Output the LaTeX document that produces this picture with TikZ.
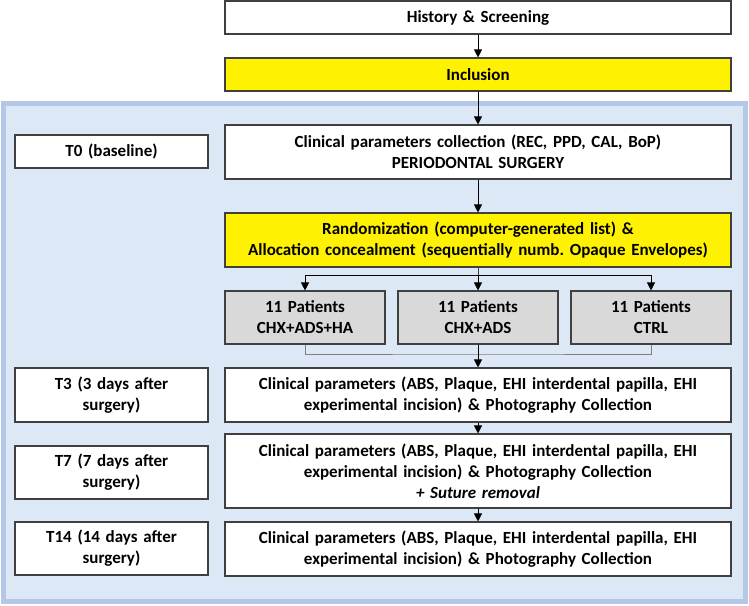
\documentclass[tikz,border=0pt]{standalone}
\usepackage{fontspec}
\setmainfont{Carlito}
\usetikzlibrary{arrows.meta,positioning}
\definecolor{boxline}{HTML}{404040}
\definecolor{bandfill}{HTML}{DCE8F6}
\definecolor{bandline}{HTML}{B4C7E7}
\definecolor{patfill}{HTML}{D9D9D9}
\frenchspacing
\begin{document}
\begin{tikzpicture}[x=1pt, y=-1pt,
  every node/.style={font=\fontsize{17}{21}\selectfont\bfseries, align=center},
  box/.style={draw=boxline, line width=1.1pt, fill=white, inner xsep=4pt, inner ysep=0pt},
  mainbox/.style={box, text width=498pt, minimum height=#1},
  timebox/.style={box, text width=185pt, minimum height=#1},
  patbox/.style={box, fill=patfill, text width=152pt, minimum height=53pt},
  arr/.style={-{Triangle[length=8pt,width=8pt]}, draw=black, line width=0.8pt},
  linkline/.style={draw=boxline, line width=0.8pt}]
\useasboundingbox (0,0) rectangle (749,605);

\draw[bandline, fill=bandfill, line width=5pt] (3.5,103.5) rectangle (745.5,601.5);

\node[mainbox=33pt] (hist) at (478,17.5) {History \& Screening};
\node[mainbox=33pt, fill=yellow] (incl) at (478,74.5) {Inclusion};

\node[timebox=33pt] (t0) at (111.5,151.5) {T0 (baseline)};
\node[mainbox=54pt] (clin) at (478,152) {Clinical parameters collection (REC, PPD, CAL, BoP)\\PERIODONTAL SURGERY};

\node[mainbox=54pt, fill=yellow] (rand) at (478,240) {Randomization (computer-generated list) \&\\Allocation concealment (sequentially numb. Opaque Envelopes)};

\node[patbox] (pat1) at (305,317.5) {11 Patients\\CHX+ADS+HA};
\node[patbox] (pat2) at (478,317.5) {11 Patients\\CHX+ADS};
\node[patbox] (pat3) at (651,317.5) {11 Patients\\CTRL};

\node[timebox=54pt] (t3) at (111.5,395) {T3 (3 days after\\surgery)};
\node[mainbox=54pt] (visit3) at (478,395) {Clinical parameters (ABS, Plaque, EHI interdental papilla, EHI\\experimental incision) \& Photography Collection};

\node[timebox=53pt] (t7) at (111.5,472.5) {T7 (7 days after\\surgery)};
\node[mainbox=74pt] (visit7) at (478,471) {Clinical parameters (ABS, Plaque, EHI interdental papilla, EHI\\experimental incision) \& Photography Collection\\\textit{+ Suture removal}};

\node[timebox=53pt] (t14) at (111.5,548.5) {T14 (14 days after\\surgery)};
\node[mainbox=54pt] (visit14) at (478,549) {Clinical parameters (ABS, Plaque, EHI interdental papilla, EHI\\experimental incision) \& Photography Collection};

\draw[arr] (hist) -- (incl);
\draw[arr] (incl) -- (clin);
\draw[arr] (clin) -- (rand);

\coordinate (split) at (478,275);
\draw[linkline] (rand) -- (split);
\draw[arr] (split) -| (pat1);
\draw[arr] (split) -- (pat2);
\draw[arr] (split) -| (pat3);

\coordinate (merge) at (478,354);
\draw[linkline, gray] (pat1) |- (merge) -| (pat3);
\draw[arr] (pat2) -- (visit3);
\draw[arr] (visit3) -- (visit7);
\draw[arr] (visit7) -- (visit14);

\end{tikzpicture}
\end{document}
